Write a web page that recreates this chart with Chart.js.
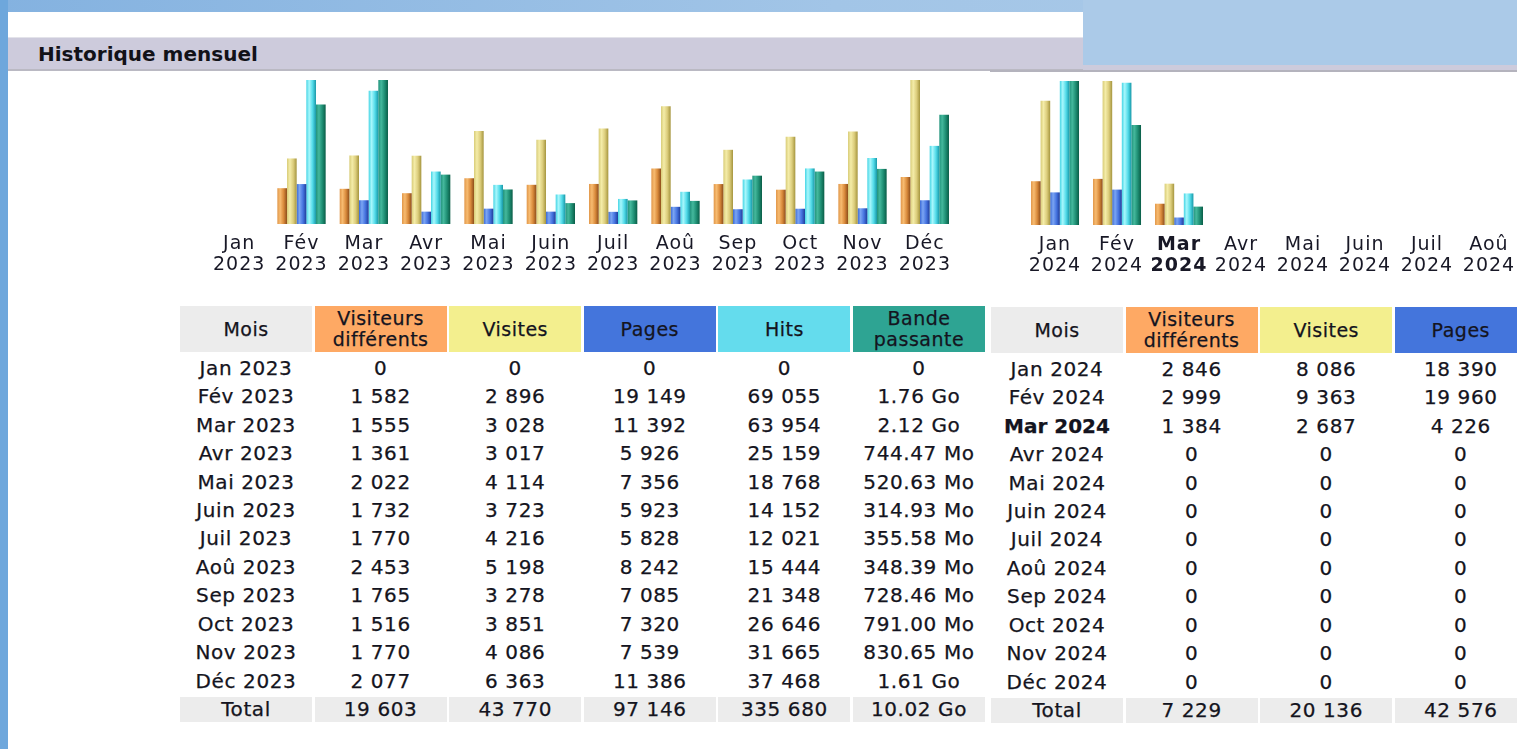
<!DOCTYPE html>
<html>
<head>
<meta charset="utf-8">
<title>Historique mensuel</title>
<script src="https://cdn.jsdelivr.net/npm/chart.js@4.4.0/dist/chart.umd.min.js"></script>
<style>
html, body { margin: 0; padding: 0; width: 1517px; height: 749px; overflow: hidden; background: #fff; }
body { position: relative; font-family: "DejaVu Sans", Verdana, sans-serif; }
#topband { position: absolute; left: 0; top: 0; width: 1517px; height: 12px; background: linear-gradient(to right, #84b2e0, #a2c5e7 55%, #adcbe8); }
#leftband { position: absolute; left: 0; top: 0; width: 8px; height: 749px; background: #6ea7dc; }
#rightblue { position: absolute; left: 1083px; top: 0; width: 434px; height: 65px; background: #abcae8; }
#titlebar { position: absolute; left: 8px; top: 37px; width: 1075px; height: 31px; background: #cdcbdc; border-top: 1px solid #e3e3ea; border-bottom: 2px solid #bab9c3; }
#titlebar2 { position: absolute; left: 1083px; top: 65px; width: 434px; height: 5px; background: #cdcbdc; }
#line2 { position: absolute; left: 990px; top: 70px; width: 527px; height: 2px; background: #b4b3bd; }
#title { position: absolute; left: 38px; top: 41px; height: 26px; line-height: 26px; font-size: 20px; font-weight: bold; color: #121218; }
canvas { position: absolute; }
.tbl { position: absolute; display: grid; grid-template-rows: 46px repeat(13, 25.8px); column-gap: 2.6px; row-gap: 2.7px; }
.tbl div { display: flex; align-items: center; justify-content: center; text-align: center; font-size: 20px; letter-spacing: 0.6px; color: #141420; white-space: nowrap; -webkit-text-stroke: 0.25px #141420; }
.tbl div.h { font-size: 19px; line-height: 21px; letter-spacing: 0.5px; }
.tbl div.t { background: #ececec; }
.tbl div.b { font-weight: bold; letter-spacing: 0; }
</style>
</head>
<body>
<div id="topband"></div>
<div id="leftband"></div>
<div id="rightblue"></div>
<div id="titlebar"></div>
<div id="titlebar2"></div>
<div id="line2"></div>
<div id="title">Historique mensuel</div>

<canvas id="chart2023" width="788" height="214" style="left:188px;top:70px"></canvas>
<canvas id="chart2024" width="784" height="214" style="left:1004px;top:71px"></canvas>

<div class="tbl" id="tbl2023" style="left:180px;top:306px"></div>
<div class="tbl" id="tbl2024" style="left:991px;top:307px"></div>

<script>
var months = ['Jan', 'Fév', 'Mar', 'Avr', 'Mai', 'Juin', 'Juil', 'Aoû', 'Sep', 'Oct', 'Nov', 'Déc'];

var visitors2023 = [0, 1582, 1555, 1361, 2022, 1732, 1770, 2453, 1765, 1516, 1770, 2077];
var visits2023 = [0, 2896, 3028, 3017, 4114, 3723, 4216, 5198, 3278, 3851, 4086, 6363];
var pages2023 = [0, 19149, 11392, 5926, 7356, 5923, 5828, 8242, 7085, 7320, 7539, 11386];
var hits2023 = [0, 69055, 63954, 25159, 18768, 14152, 12021, 15444, 21348, 26646, 31665, 37468];
// bande passante en Mo (1 Go = 1024 Mo)
var bandwidth2023 = [0, 1802.24, 2170.88, 744.47, 520.63, 314.93, 355.58, 348.39, 728.46, 791.00, 830.65, 1648.64];

var visitors2024 = [2846, 2999, 1384, 0, 0, 0, 0, 0, 0, 0, 0, 0];
var visits2024 = [8086, 9363, 2687, 0, 0, 0, 0, 0, 0, 0, 0, 0];
var pages2024 = [18390, 19960, 4226, 0, 0, 0, 0, 0, 0, 0, 0, 0];
// colonnes coupees sur la capture : estimees d'apres la hauteur des barres
var hits2024 = [81200, 80200, 17800, 0, 0, 0, 0, 0, 0, 0, 0, 0];
var bandwidth2024 = [2350, 1630, 300, 0, 0, 0, 0, 0, 0, 0, 0, 0];

var currentMonth2024 = 2; // Mar 2024 en gras

//------------------ Couleurs ------------------
var headColors = ['#ececec', '#fea964', '#f3ef8e', '#4475dc', '#64dced', '#2ea493'];
var barColors = [
    ['#e1974a', '#f7bb70', '#d98a3b', '#8e4e1b'],
    ['#d8cc78', '#f4eca8', '#dccd7c', '#a5953e'],
    ['#3b6ad6', '#7ba5f3', '#4674e0', '#1f3d9b'],
    ['#46d5e5', '#a8f7fc', '#52dbe9', '#1898a7'],
    ['#22937c', '#44b89c', '#1f8f74', '#0a5d47']
];
var CAT_PCT = 0.775;
var textColor = '#181826';

function fmt(n) {
    return String(n).replace(/\B(?=(\d{3})+(?!\d))/g, ' ');
}
function fmtBw(mo) {
    if (mo === 0) return '0';
    if (mo >= 1024) return (mo / 1024).toFixed(2) + ' Go';
    return mo.toFixed(2) + ' Mo';
}
function sum(a) {
    return a.reduce(function (s, v) { return s + v; }, 0);
}

// degrade horizontal sur chaque barre, comme les images d'AWStats
function barFill(i) {
    return function (c) {
        var chart = c.chart;
        var x = chart.scales.x;
        if (c.type !== 'data' || !x || !chart.chartArea) return barColors[i][1];
        var cat = x.width / x.getLabels().length;
        var group = cat * CAT_PCT;
        var w = group / 5;
        var left = x.getPixelForValue(c.dataIndex) - group / 2 + i * w;
        var g = chart.ctx.createLinearGradient(left, 0, left + w, 0);
        g.addColorStop(0, barColors[i][0]);
        g.addColorStop(0.3, barColors[i][1]);
        g.addColorStop(0.65, barColors[i][2]);
        g.addColorStop(1, barColors[i][3]);
        return g;
    };
}

var spacing = {
    id: 'spacing',
    beforeDraw: function (chart) { chart.ctx.letterSpacing = '1px'; }
};

function dibujar(id, year, visitors, visits, pages, hits, bandwidth, boldIndex) {
    var labels = months.map(function (m) { return [m, year]; });
    var ds = [visitors, visits, pages, hits, bandwidth];
    var axes = ['yv', 'yv', 'yp', 'yp', 'yb'];
    var datasets = ds.map(function (d, i) {
        return {
            data: d,
            yAxisID: axes[i],
            backgroundColor: barFill(i),
            borderWidth: 0,
            categoryPercentage: CAT_PCT,
            barPercentage: 1
        };
    });
    var config = {
        type: 'bar',
        data: { labels: labels, datasets: datasets },
        options: {
            responsive: false,
            animation: false,
            devicePixelRatio: 1,
            layout: { padding: { left: 20, right: 20, top: 10, bottom: 0 } },
            plugins: { legend: { display: false }, tooltip: { enabled: false } },
            scales: {
                x: {
                    grid: { display: false, drawTicks: false },
                    border: { display: false },
                    ticks: {
                        padding: 10,
                        autoSkip: false,
                        maxRotation: 0,
                        color: textColor,
                        font: function (c) {
                            return {
                                family: '"DejaVu Sans", Verdana, sans-serif',
                                size: 19,
                                lineHeight: 21 / 19,
                                weight: c.index === boldIndex ? 'bold' : 'normal'
                            };
                        }
                    },
                    afterFit: function (s) { s.height = 60; }
                },
                yv: { display: false, min: 0, max: Math.max.apply(null, visits) },
                yp: { display: false, min: 0, max: Math.max.apply(null, hits) },
                yb: { display: false, min: 0, max: Math.max.apply(null, bandwidth) }
            }
        },
        plugins: [spacing]
    };
    return new Chart(document.getElementById(id), config);
}

function tabla(id, year, cols, boldIndex) {
    var el = document.getElementById(id);
    el.style.gridTemplateColumns = 'repeat(' + cols.length + ', 132px)';
    var html = '';
    cols.forEach(function (c, k) {
        html += '<div class="h" style="background:' + headColors[k] + '">' + c.title + '</div>';
    });
    for (var r = 0; r < 12; r++) {
        var b = r === boldIndex ? ' b' : '';
        cols.forEach(function (c, k) {
            var txt = k === 0 ? months[r] + ' ' + year : c.fmt(c.data[r]);
            html += '<div class="' + (k === 0 ? b : '') + '">' + txt + '</div>';
        });
    }
    cols.forEach(function (c, k) {
        var txt = k === 0 ? 'Total' : c.fmt(sum(c.data));
        html += '<div class="t">' + txt + '</div>';
    });
    el.innerHTML = html;
}

dibujar('chart2023', '2023', visitors2023, visits2023, pages2023, hits2023, bandwidth2023, -1);
dibujar('chart2024', '2024', visitors2024, visits2024, pages2024, hits2024, bandwidth2024, currentMonth2024);

tabla('tbl2023', '2023', [
    { title: 'Mois' },
    { title: 'Visiteurs<br>différents', data: visitors2023, fmt: fmt },
    { title: 'Visites', data: visits2023, fmt: fmt },
    { title: 'Pages', data: pages2023, fmt: fmt },
    { title: 'Hits', data: hits2023, fmt: fmt },
    { title: 'Bande<br>passante', data: bandwidth2023, fmt: fmtBw }
], -1);

tabla('tbl2024', '2024', [
    { title: 'Mois' },
    { title: 'Visiteurs<br>différents', data: visitors2024, fmt: fmt },
    { title: 'Visites', data: visits2024, fmt: fmt },
    { title: 'Pages', data: pages2024, fmt: fmt }
], currentMonth2024);
</script>
</body>
</html>
